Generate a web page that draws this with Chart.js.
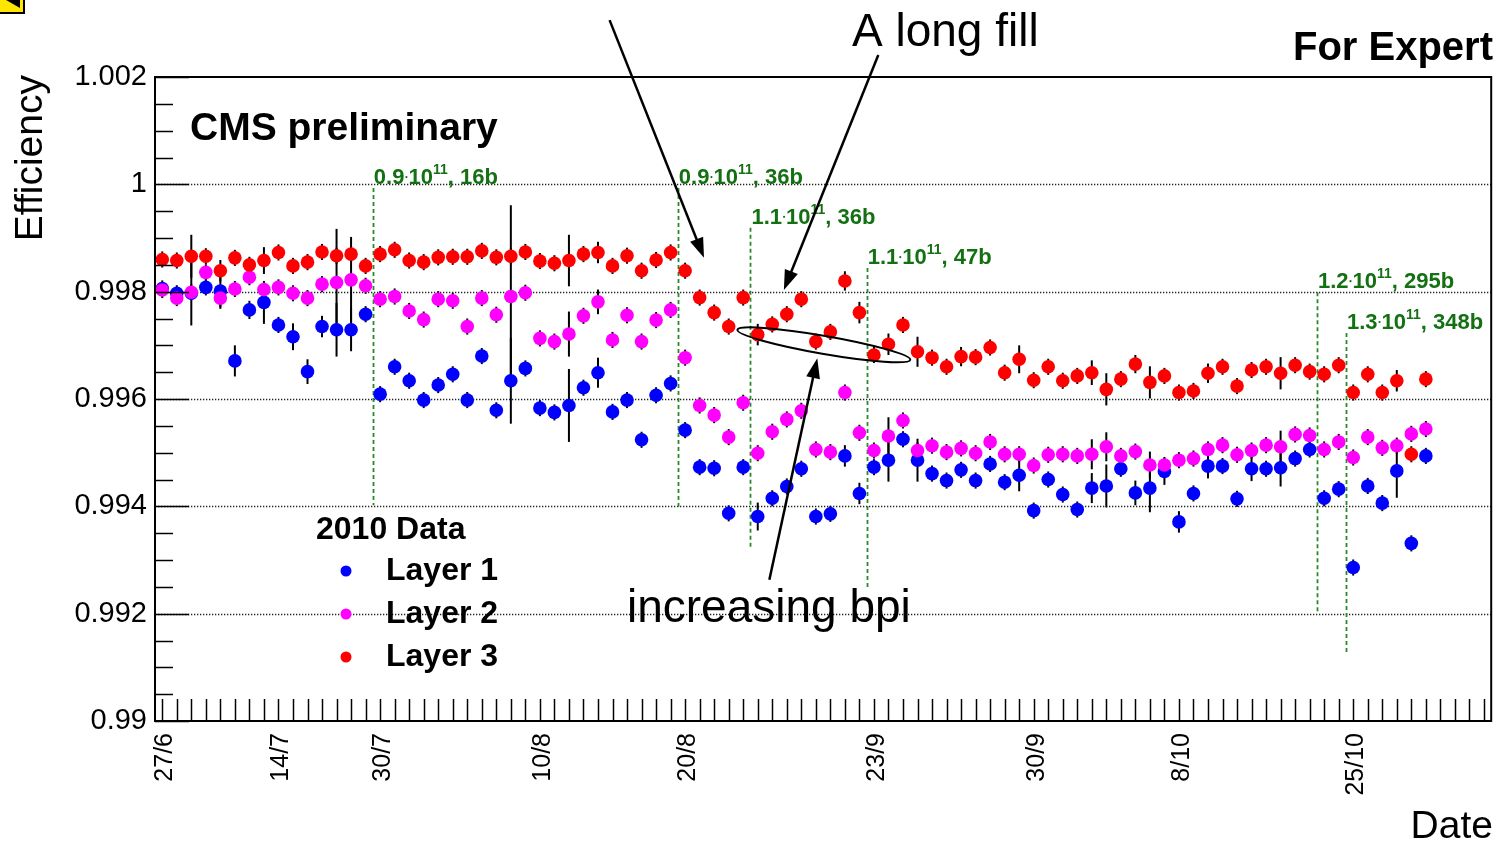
<!DOCTYPE html>
<html>
<head>
<meta charset="utf-8">
<title>Layer efficiency vs date</title>
<script src="https://cdn.jsdelivr.net/npm/chart.js@4.4.1/dist/chart.umd.min.js"></script>
<style>
    html, body { margin: 0; padding: 0; background: #fff; }
    #wrap { position: relative; width: 1498px; height: 841px; }
</style>
</head>
<body>
<div id="wrap"><canvas id="eff-chart"></canvas></div>
<script>
const FONT = '"Liberation Sans", Arial, Helvetica, sans-serif';

// date labels sit on these bins of the x axis
const dateLabels = ['27/6', '14/7', '30/7', '10/8', '20/8', '23/9', '30/9', '8/10', '25/10'];
const dateBins = [0, 8, 15, 26, 36, 49, 60, 70, 82];
const yTicks = [0.99, 0.992, 0.994, 0.996, 0.998, 1.0, 1.002];

// efficiency per bin (bin 0..87)
const layer1 = [
    0.99806, 0.99797, 0.99797, 0.99808, 0.99801, 0.99671, 0.99766, 0.99780, 0.99738, 0.99716,
    0.99651, 0.99735, 0.99729, 0.99729, 0.99758, 0.99609, 0.99660, 0.99634, 0.99598, 0.99626,
    0.99646, 0.99598, 0.99680, 0.99579, 0.99634, 0.99657, 0.99583, 0.99575, 0.99588, 0.99621,
    0.99649, 0.99576, 0.99598, 0.99524, 0.99607, 0.99629, 0.99542, 0.99473, 0.99471, 0.99387,
    0.99473, 0.99381, 0.99415, 0.99437, 0.99470, 0.99381, 0.99386, 0.99494, 0.99424, 0.99473,
    0.99486, 0.99525, 0.99486, 0.99461, 0.99448, 0.99468, 0.99448, 0.99479, 0.99445, 0.99458,
    0.99392, 0.99450, 0.99422, 0.99394, 0.99434, 0.99438, 0.99470, 0.99425, 0.99434, 0.99465,
    0.99371, 0.99424, 0.99475, 0.99475, 0.99414, 0.99470, 0.99470, 0.99472, 0.99489, 0.99506,
    0.99415, 0.99432, 0.99286, 0.99438, 0.99406, 0.99466, 0.99331, 0.99494
];
const layer2 = [
    0.99803, 0.99788, 0.99799, 0.99836, 0.99788, 0.99805, 0.99827, 0.99804, 0.99808, 0.99797,
    0.99788, 0.99814, 0.99817, 0.99822, 0.99811, 0.99786, 0.99791, 0.99764, 0.99748, 0.99786,
    0.99783, 0.99735, 0.99788, 0.99757, 0.99791, 0.99798, 0.99713, 0.99707, 0.99721, 0.99755,
    0.99781, 0.99710, 0.99756, 0.99707, 0.99747, 0.99766, 0.99677, 0.99588, 0.99570, 0.99529,
    0.99593, 0.99499, 0.99539, 0.99562, 0.99578, 0.99506, 0.99501, 0.99612, 0.99537, 0.99504,
    0.99531, 0.99560, 0.99504, 0.99513, 0.99501, 0.99508, 0.99499, 0.99520, 0.99497, 0.99497,
    0.99476, 0.99496, 0.99497, 0.99494, 0.99497, 0.99511, 0.99494, 0.99502, 0.99477, 0.99477,
    0.99486, 0.99489, 0.99506, 0.99514, 0.99496, 0.99504, 0.99514, 0.99511, 0.99534, 0.99532,
    0.99506, 0.99520, 0.99491, 0.99529, 0.99509, 0.99513, 0.99535, 0.99544
];
const layer3 = [
    0.99860, 0.99858, 0.99866, 0.99866, 0.99839, 0.99863, 0.99850, 0.99858, 0.99873, 0.99848,
    0.99855, 0.99874, 0.99867, 0.99870, 0.99848, 0.99870, 0.99878, 0.99858, 0.99855, 0.99864,
    0.99865, 0.99865, 0.99876, 0.99864, 0.99866, 0.99874, 0.99857, 0.99853, 0.99858, 0.99870,
    0.99873, 0.99848, 0.99867, 0.99839, 0.99859, 0.99873, 0.99839, 0.99789, 0.99761, 0.99735,
    0.99789, 0.99720, 0.99739, 0.99758, 0.99786, 0.99707, 0.99725, 0.99820, 0.99761, 0.99682,
    0.99702, 0.99738, 0.99688, 0.99677, 0.99660, 0.99679, 0.99678, 0.99696, 0.99649, 0.99674,
    0.99635, 0.99660, 0.99634, 0.99643, 0.99649, 0.99618, 0.99637, 0.99665, 0.99631, 0.99643,
    0.99612, 0.99615, 0.99648, 0.99660, 0.99624, 0.99654, 0.99660, 0.99648, 0.99663, 0.99651,
    0.99646, 0.99663, 0.99612, 0.99646, 0.99612, 0.99634, 0.99497, 0.99637
];

// errors in units of 1e-4
const layer1Err = [
    1.5, 1.5, 6, 1.5, 3, 2.9, 1.7, 4, 1.5, 2.5,
    2.3, 2, 5, 4, 1.5, 1.5, 1.5, 1.5, 1.5, 1.5,
    1.5, 1.5, 1.5, 1.5, 8, 1.5, 1.5, 1.5, 6.8, 1.5,
    2.8, 1.5, 1.5, 1.5, 1.5, 1.5, 1.5, 1.5, 1.5, 1.5,
    1.5, 2.6, 1.5, 1.5, 1.5, 1.5, 1.5, 2, 2, 1.5,
    4, 1.5, 4, 1.5, 1.5, 1.5, 1.5, 1.5, 1.5, 3,
    1.5, 1.5, 1.5, 1.5, 2.8, 4, 1.5, 2.3, 4.5, 2.5,
    2, 1.5, 2.3, 1.5, 1.5, 2.3, 1.5, 3.5, 1.5, 1.5,
    1.5, 1.5, 1.5, 1.5, 1.5, 5, 1.5, 1.5
];
const layer2Err = [
    1.5, 1.5, 1.5, 1.5, 2, 1.5, 1.5, 1.5, 1.5, 1.5,
    1.5, 1.5, 10, 8, 1.5, 1.5, 1.5, 1.5, 1.5, 1.5,
    1.5, 1.5, 1.5, 1.5, 17, 1.5, 1.5, 1.5, 4.2, 1.5,
    2.3, 1.5, 1.5, 1.5, 1.5, 1.5, 1.5, 1.5, 1.5, 1.5,
    1.5, 1.5, 1.5, 1.5, 1.5, 1.5, 1.5, 1.5, 1.5, 1.5,
    3.5, 1.5, 1.5, 1.5, 1.5, 1.5, 1.5, 1.5, 1.5, 1.5,
    1.5, 1.5, 1.5, 1.5, 2.8, 2.7, 1.5, 1.5, 2.5, 1.5,
    1.5, 1.5, 1.5, 1.5, 1.5, 1.5, 1.5, 3, 1.5, 1.5,
    1.5, 1.5, 1.5, 1.5, 1.5, 1.5, 1.5, 1.5
];
const layer3Err = [
    1.5, 1.5, 4, 1.5, 2, 1.5, 1.5, 2.5, 1.5, 1.5,
    1.5, 1.5, 1.5, 1.5, 1.5, 1.5, 1.5, 1.5, 1.5, 1.5,
    1.5, 1.5, 1.5, 1.5, 1.5, 1.5, 1.5, 1.5, 4.8, 1.5,
    2, 1.5, 1.5, 1.5, 1.5, 1.5, 1.5, 1.5, 1.5, 1.5,
    1.5, 2, 1.5, 1.5, 1.5, 1.5, 1.5, 1.8, 2, 1.5,
    2, 1.5, 2.8, 1.5, 1.5, 1.8, 1.5, 1.5, 1.5, 2.6,
    1.5, 1.5, 1.5, 1.5, 2.3, 3, 1.5, 1.7, 3, 1.5,
    1.5, 1.5, 1.8, 1.5, 1.5, 1.5, 1.5, 3, 1.5, 1.5,
    1.5, 1.5, 1.5, 1.5, 1.5, 2, 1.5, 1.5
];

// beam conditions: bin edge where they change, label, extent of the dashed marker
const fillBins = [14.5, 35.5, 40.5, 48.5, 79.5, 81.5];
const fillIntensity = ['0.9', '0.9', '1.1', '1.1', '1.2', '1.3'];
const fillBunches = ['16b', '36b', '36b', '47b', '295b', '348b'];
const fillTop = [0.99993, 0.99993, 0.99919, 0.99844, 0.99799, 0.99723];
const fillBottom = [0.99402, 0.99399, 0.99322, 0.99244, 0.99199, 0.99123];

// annotation arrows in (bin, efficiency)
const arrows = [
    { from: [30.8, 1.00306], to: [37.3, 0.99863] },
    { from: [49.3, 1.00241], to: [42.8, 0.99803] },
    { from: [41.8, 0.99263], to: [45.1, 0.99676] }
];
const ellipseEnds = [[39.6, 0.99729], [51.5, 0.99673]];

const RED = '#ff0000', MAGENTA = '#ff00ff', BLUE = '#0000ff';
const GREEN_LINE = '#2a8a2a', GREEN_TEXT = '#137013';

function toPoints(vals) {
    return vals.map((v, i) => ({ x: i, y: v }));
}

function drawArrow(ctx, x1, y1, x2, y2) {
    const a = Math.atan2(y2 - y1, x2 - x1);
    const len = 20, half = 7;
    ctx.beginPath();
    ctx.moveTo(x1, y1);
    ctx.lineTo(x2 - len * 0.8 * Math.cos(a), y2 - len * 0.8 * Math.sin(a));
    ctx.stroke();
    ctx.beginPath();
    ctx.moveTo(x2, y2);
    ctx.lineTo(x2 - len * Math.cos(a) + half * Math.sin(a), y2 - len * Math.sin(a) - half * Math.cos(a));
    ctx.lineTo(x2 - len * Math.cos(a) - half * Math.sin(a), y2 - len * Math.sin(a) + half * Math.cos(a));
    ctx.closePath();
    ctx.fill();
}

function drawFillLabel(ctx, x, y, intensity, bunches) {
    ctx.fillStyle = GREEN_TEXT;
    ctx.textAlign = 'left';
    ctx.textBaseline = 'alphabetic';
    ctx.font = 'bold 22px ' + FONT;
    ctx.fillText(intensity, x, y);
    x += ctx.measureText(intensity).width + 2;
    ctx.beginPath();
    ctx.arc(x, y - 7, 1.1, 0, Math.PI * 2);
    ctx.fill();
    x += 2;
    ctx.fillText('10', x, y);
    x += ctx.measureText('10').width;
    ctx.font = 'bold 14px ' + FONT;
    ctx.fillText('11', x, y - 10);
    x += ctx.measureText('11').width;
    ctx.font = 'bold 22px ' + FONT;
    ctx.fillText(', ' + bunches, x, y);
}

// ROOT-like frame, inner ticks, grid, error bars and annotations
const rootStyle = {
    id: 'rootStyle',
    beforeDatasetsDraw(chart) {
        const ctx = chart.ctx;
        const xs = chart.scales.x, ys = chart.scales.y;
        const area = chart.chartArea;
        ctx.save();

        // dotted horizontal grid
        ctx.strokeStyle = '#222';
        ctx.lineWidth = 1.3;
        ctx.setLineDash([1.3, 1.7]);
        yTicks.forEach(v => {
            const y = Math.round(ys.getPixelForValue(v)) + 0.5;
            if (y <= area.top + 2 || y >= area.bottom - 2) return;
            ctx.beginPath();
            ctx.moveTo(area.left, y);
            ctx.lineTo(area.right, y);
            ctx.stroke();
        });

        // fill-condition markers
        ctx.strokeStyle = GREEN_LINE;
        ctx.lineWidth = 1.8;
        ctx.setLineDash([4, 3]);
        fillBins.forEach((b, k) => {
            const x = Math.round(xs.getPixelForValue(b)) + 0.5;
            ctx.beginPath();
            ctx.moveTo(x, ys.getPixelForValue(fillTop[k]));
            ctx.lineTo(x, ys.getPixelForValue(fillBottom[k]));
            ctx.stroke();
        });
        ctx.setLineDash([]);

        // error bars
        const errs = [layer3Err, layer2Err, layer1Err];
        ctx.strokeStyle = '#000';
        ctx.lineWidth = 2;
        chart.data.datasets.forEach((ds, d) => {
            const meta = chart.getDatasetMeta(d);
            meta.data.forEach((el, i) => {
                const v = ds.data[i].y, e = errs[d][i] * 1e-4;
                ctx.beginPath();
                ctx.moveTo(el.x, ys.getPixelForValue(v + e));
                ctx.lineTo(el.x, ys.getPixelForValue(v - e));
                ctx.stroke();
            });
        });
        ctx.restore();
    },
    afterDatasetsDraw(chart) {
        const ctx = chart.ctx;
        const xs = chart.scales.x, ys = chart.scales.y;
        const area = chart.chartArea;
        ctx.save();

        // ticks on the inside of the frame
        ctx.strokeStyle = '#000';
        ctx.lineWidth = 1.5;
        xs.ticks.forEach(t => {
            const x = Math.round(xs.getPixelForValue(t.value)) + 0.5;
            ctx.beginPath();
            ctx.moveTo(x, area.bottom);
            ctx.lineTo(x, area.bottom - 22);
            ctx.stroke();
        });
        for (let k = 0; k <= 24; k++) {
            const v = ys.min + k * 0.0005;
            const y = Math.round(ys.getPixelForValue(v)) + 0.5;
            const len = k % 4 === 0 ? 34 : 18;
            ctx.beginPath();
            ctx.moveTo(area.left, y);
            ctx.lineTo(area.left + len, y);
            ctx.stroke();
        }

        // frame
        ctx.lineWidth = 2;
        ctx.strokeRect(area.left, area.top, area.right - area.left, area.bottom - area.top);

        // beam labels
        fillBins.forEach((b, k) => {
            const x = xs.getPixelForValue(b) + 1;
            const y = ys.getPixelForValue(fillTop[k]) - 4;
            drawFillLabel(ctx, x, y, fillIntensity[k], fillBunches[k]);
        });

        // arrows and ellipse
        ctx.strokeStyle = '#000';
        ctx.fillStyle = '#000';
        ctx.lineWidth = 2.5;
        arrows.forEach(a => {
            drawArrow(ctx,
                xs.getPixelForValue(a.from[0]), ys.getPixelForValue(a.from[1]),
                xs.getPixelForValue(a.to[0]), ys.getPixelForValue(a.to[1]));
        });
        const ex1 = xs.getPixelForValue(ellipseEnds[0][0]), ey1 = ys.getPixelForValue(ellipseEnds[0][1]);
        const ex2 = xs.getPixelForValue(ellipseEnds[1][0]), ey2 = ys.getPixelForValue(ellipseEnds[1][1]);
        ctx.lineWidth = 2;
        ctx.beginPath();
        ctx.ellipse((ex1 + ex2) / 2, (ey1 + ey2) / 2, Math.hypot(ex2 - ex1, ey2 - ey1) / 2, 9,
            Math.atan2(ey2 - ey1, ex2 - ex1), 0, Math.PI * 2);
        ctx.stroke();

        // texts
        ctx.fillStyle = '#000';
        ctx.textBaseline = 'alphabetic';
        ctx.textAlign = 'left';
        ctx.font = 'bold 39px ' + FONT;
        ctx.fillText('CMS preliminary', 190, 140);
        ctx.textAlign = 'right';
        ctx.font = 'bold 40px ' + FONT;
        ctx.fillText('For Expert', 1493, 60);
        ctx.textAlign = 'left';
        ctx.font = '46px ' + FONT;
        ctx.fillText('A long fill', 852, 46);
        ctx.fillText('increasing bpi', 627, 622);

        ctx.textAlign = 'right';
        ctx.font = '39px ' + FONT;
        ctx.fillText('Date', 1493, 838);
        ctx.save();
        ctx.translate(42, 75);
        ctx.rotate(-Math.PI / 2);
        ctx.fillText('Efficiency', 0, 0);
        ctx.restore();

        // legend
        const legendRows = [
            { label: 'Layer 1', color: BLUE },
            { label: 'Layer 2', color: MAGENTA },
            { label: 'Layer 3', color: RED }
        ];
        ctx.textAlign = 'left';
        ctx.font = 'bold 32px ' + FONT;
        ctx.fillText('2010 Data', 316, 539);
        legendRows.forEach((r, k) => {
            const cy = 571 + k * 43;
            ctx.fillStyle = r.color;
            ctx.beginPath();
            ctx.arc(346, cy, 5.5, 0, Math.PI * 2);
            ctx.fill();
            ctx.fillStyle = '#000';
            ctx.fillText(r.label, 386, cy + 9);
        });

        // corner logo
        ctx.fillStyle = '#ffe600';
        ctx.fillRect(0, 0, 24, 13);
        ctx.fillStyle = '#000';
        ctx.beginPath();
        ctx.moveTo(6, 0); ctx.lineTo(20, 0); ctx.lineTo(20, 8);
        ctx.closePath();
        ctx.fill();
        ctx.lineWidth = 2;
        ctx.strokeRect(-1, -1, 25, 14);
        ctx.restore();
    }
};

document.addEventListener('DOMContentLoaded', function() {
    const ctx = document.getElementById('eff-chart').getContext('2d');
    new Chart(ctx, {
        type: 'scatter',
        data: {
            datasets: [
                { label: 'Layer 3', data: toPoints(layer3), backgroundColor: RED, order: 0 },
                { label: 'Layer 2', data: toPoints(layer2), backgroundColor: MAGENTA, order: 1 },
                { label: 'Layer 1', data: toPoints(layer1), backgroundColor: BLUE, order: 2 }
            ]
        },
        options: {
            responsive: true,
            maintainAspectRatio: false,
            animation: false,
            events: [],
            layout: { padding: { top: 77, right: 5, left: 0, bottom: 0 } },
            plugins: { legend: { display: false }, tooltip: { enabled: false } },
            elements: { point: { radius: 6.8, hoverRadius: 6.8, borderWidth: 0, pointStyle: 'circle' } },
            scales: {
                x: {
                    type: 'linear',
                    min: -0.5,
                    max: 91.5,
                    afterBuildTicks: s => {
                        const t = [];
                        for (let i = 0; i <= 91; i++) t.push({ value: i });
                        s.ticks = t;
                    },
                    afterFit: s => {
                        s.height = 120;
                        s.paddingLeft = 0;
                        s.paddingRight = 0;
                    },
                    grid: { display: false, drawTicks: false },
                    border: { display: false },
                    ticks: {
                        autoSkip: false,
                        minRotation: 90,
                        maxRotation: 90,
                        padding: 12,
                        labelOffset: 3,
                        color: '#000',
                        font: { family: FONT, size: 25 },
                        callback: v => {
                            const k = dateBins.indexOf(v);
                            return k >= 0 ? dateLabels[k] : '';
                        }
                    }
                },
                y: {
                    min: 0.99,
                    max: 1.002,
                    afterBuildTicks: s => { s.ticks = yTicks.map(v => ({ value: v })); },
                    afterFit: s => {
                        s.width = 155;
                        s.paddingTop = 0;
                        s.paddingBottom = 0;
                    },
                    grid: { display: false, drawTicks: false },
                    border: { display: false },
                    ticks: {
                        padding: 8,
                        color: '#000',
                        font: { family: FONT, size: 29 },
                        callback: v => String(+v.toFixed(3))
                    }
                }
            }
        },
        plugins: [rootStyle]
    });
});
</script>
</body>
</html>
